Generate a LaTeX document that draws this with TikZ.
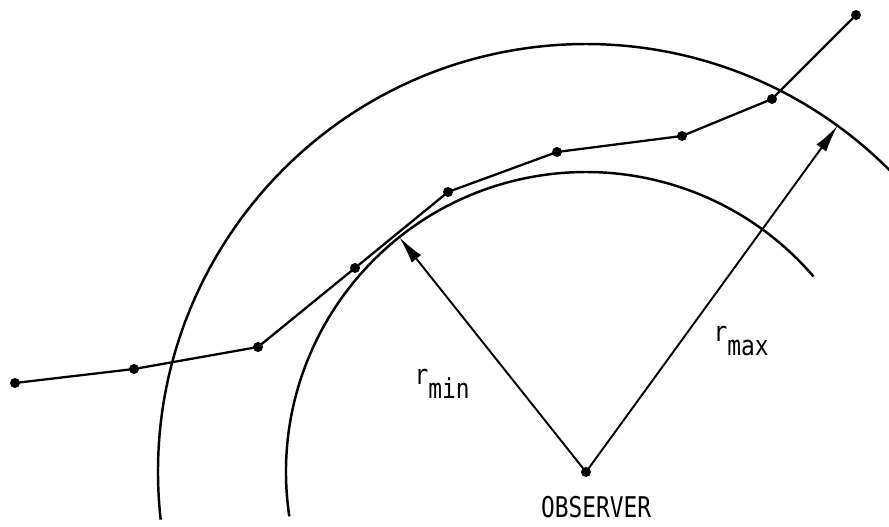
\documentclass[tikz,border=0pt]{standalone}
\usepackage{fontspec}
\newfontfamily\monofont{DejaVu Sans Mono}
\usetikzlibrary{arrows.meta,calc}
\begin{document}
\begin{tikzpicture}[x=0.02cm,y=0.02cm,
  arc/.style={line width=1.4pt},
  track/.style={line width=1.3pt},
  dot/.style={circle,fill=black,inner sep=0pt,minimum size=0.2cm},
  radius arrow/.style={line width=1.1pt,-{Latex[length=0.55cm,width=0.24cm]}},
  lab/.style={font=\monofont\fontsize{13pt}{15pt}\selectfont,inner sep=0pt}]
\useasboundingbox (0,0) rectangle (889,527);
\clip (0,0) rectangle (889,527);
\coordinate (O) at (586,55);
% circles
\draw[arc] ($(O)+(188.5:300)$) arc[start angle=188.5,end angle=40.7,radius=300];
\draw[arc] ($(O)+(186.4:428)$) arc[start angle=186.4,end angle=44,radius=428];
% radius arrows
\coordinate (Rmin) at ($(O)+(128.5:300)$);
\coordinate (Rmax) at ($(O)+(54:428)$);
\draw[radius arrow] (O) -- (Rmin);
\draw[radius arrow] (O) -- (Rmax);
% track points
\node[dot] (p1) at (15,144) {};
\node[dot] (p2) at (134,158) {};
\node[dot] (p3) at (258,180) {};
\node[dot] (p4) at (355,259) {};
\node[dot] (p5) at (448,335) {};
\node[dot] (p6) at (557,375) {};
\node[dot] (p7) at (682,391) {};
\node[dot] (p8) at (772,428) {};
\node[dot] (p9) at (856,512) {};
\draw[track] (p1.center) -- (p2.center) -- (p3.center) -- (p4.center) -- (p5.center)
  -- (p6.center) -- (p7.center) -- (p8.center) -- (p9.center);
\node[dot] (obs) at (O) {};
% labels
\node[lab] (lmin) at (442,143) {\scalebox{1}[1.2]{r}\raisebox{-8pt}{\scalebox{1}[1.2]{min}}};
\node[lab] (lmax) at (741,186) {\scalebox{1}[1.2]{r}\raisebox{-8pt}{\scalebox{1}[1.2]{max}}};
\node[lab] (lobs) at (596,20) {\scalebox{1}[1.25]{OBSERVER}};
\end{tikzpicture}
\end{document}
